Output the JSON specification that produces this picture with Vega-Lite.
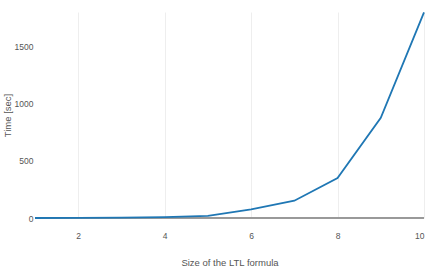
{
  "$schema": "https://vega.github.io/schema/vega-lite/v6.json",
  "width": 389,
  "height": 206,
  "autosize": {"type": "none"},
  "padding": {"left": 35, "top": 12, "right": 6, "bottom": 50},
  "background": "white",
  "config": {
    "view": {"stroke": null},
    "font": "Liberation Sans",
    "axis": {
      "domain": false,
      "ticks": false,
      "gridColor": "#eeeeee",
      "gridWidth": 1,
      "labelColor": "#555555",
      "labelFontSize": 8.5,
      "labelFont": "Liberation Sans",
      "titleFont": "Liberation Sans",
      "titleColor": "#555555",
      "titleFontSize": 9.5,
      "titleFontWeight": "normal"
    }
  },
  "data": {
    "values": [
      {"size": 1, "time": 0.2},
      {"size": 2, "time": 1},
      {"size": 3, "time": 3},
      {"size": 4, "time": 8},
      {"size": 5, "time": 18},
      {"size": 6, "time": 76},
      {"size": 7, "time": 151},
      {"size": 8, "time": 349},
      {"size": 9, "time": 875},
      {"size": 10, "time": 1797}
    ]
  },
  "layer": [
    {
      "mark": {"type": "rule", "color": "#999999", "strokeWidth": 1},
      "encoding": {"y": {"datum": 0, "type": "quantitative"}}
    },
    {
      "mark": {"type": "line", "color": "#1f77b4", "strokeWidth": 1.8},
      "encoding": {
        "x": {
          "field": "size",
          "type": "quantitative",
          "scale": {"domain": [1, 10], "nice": false, "zero": false},
          "axis": {"values": [2, 4, 6, 8, 10], "format": "d", "title": "Size of the LTL formula", "labelPadding": 13, "titleY": 44, "titleBaseline": "middle"}
        },
        "y": {
          "field": "time",
          "type": "quantitative",
          "scale": {"domain": [0, 1800], "nice": false},
          "axis": {"values": [0, 500, 1000, 1500], "format": "d", "title": "Time [sec]", "labelPadding": 2, "titleX": -28, "titleY": 103, "titleBaseline": "middle", "titleAlign": "center"}
        }
      }
    }
  ]
}
